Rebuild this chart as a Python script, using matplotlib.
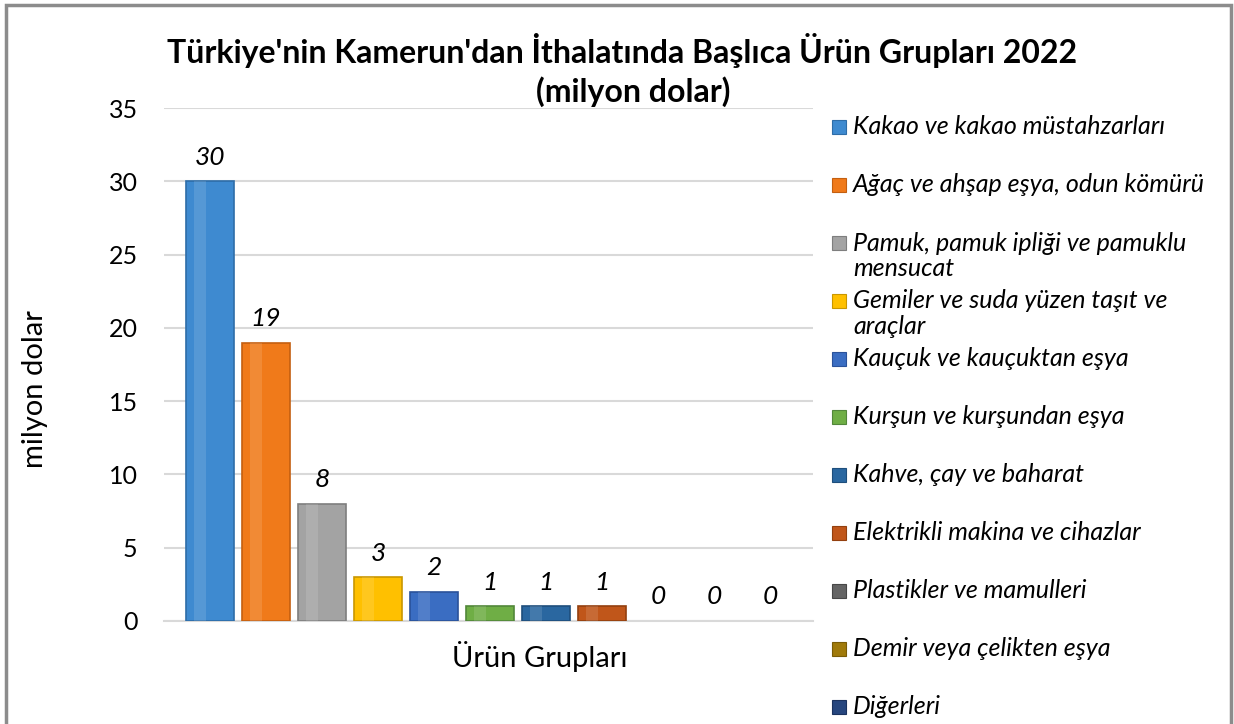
import numpy as np
import matplotlib
matplotlib.use('Agg')
import matplotlib.pyplot as plt
from matplotlib.patches import Rectangle

plt.rcParams['font.family'] = ['Lato', 'DejaVu Sans']

# veri
categories = ['Kakao ve kakao müstahzarları',
              'Ağaç ve ahşap eşya, odun kömürü',
              'Pamuk, pamuk ipliği ve pamuklu\nmensucat',
              'Gemiler ve suda yüzen taşıt ve\naraçlar',
              'Kauçuk ve kauçuktan eşya',
              'Kurşun ve kurşundan eşya',
              'Kahve, çay ve baharat',
              'Elektrikli makina ve cihazlar',
              'Plastikler ve mamulleri',
              'Demir veya çelikten eşya',
              'Diğerleri']
values = [30, 19, 8, 3, 2, 1, 1, 1, 0, 0, 0]
colors = ['#3E8AD0', '#F07A1A', '#A3A3A3', '#FFC000', '#3A6DC2', '#6FAE45',
          '#2A67A0', '#C0561A', '#646464', '#A07A0A', '#26467E']
edges = ['#2E6DA8', '#C45F10', '#7E7E7E', '#C99700', '#2A529A', '#52873A',
         '#1E4E7C', '#93400F', '#474747', '#7A5C06', '#1A325E']

W, H = 1234, 724
fig = plt.figure(figsize=(W / 100, H / 100), dpi=100)
ax = fig.add_axes([164 / W, 1 - 621 / H, (813 - 164) / W, (621 - 108) / H])

x = np.arange(len(values))
lw = [1.2 if v > 0 else 0 for v in values]
ax.bar(x, values, width=0.86, color=colors, edgecolor=edges, linewidth=lw, zorder=3)
# hafif parlama şeridi
for xi, v in zip(x, values):
    if v > 0:
        ax.bar(xi - 0.18, v, width=0.22, color='white', alpha=0.12, zorder=4, linewidth=0)

for xi, v in zip(x, values):
    ax.annotate(f'{v}', (xi, v), xytext=(0, 9), textcoords='offset points',
                ha='center', va='bottom', fontsize=19, fontstyle='italic')

ax.set_xlim(-0.82, 10.77)
ax.set_ylim(0, 35)
ax.set_yticks(range(0, 36, 5))
ax.set_xticks([])
ax.tick_params(axis='y', length=0, labelsize=18, pad=19)
ax.grid(axis='y', color='#D9D9D9', lw=1.5, zorder=0)
for s in ['top', 'right', 'left']:
    ax.spines[s].set_visible(False)
ax.spines['bottom'].set_color('#D9D9D9')
ax.spines['bottom'].set_linewidth(1.5)

fig.text(35 / W, 1 - 389 / H, 'milyon dolar', ha='center', va='center',
         rotation=90, fontsize=21)
fig.text(540 / W, 1 - 657 / H, 'Ürün Grupları', ha='center', va='center', fontsize=21)

fig.text(622 / W, 1 - 50 / H, "Türkiye'nin Kamerun'dan İthalatında Başlıca Ürün Grupları 2022",
         ha='center', va='center', fontsize=23, fontweight='bold')
fig.text(633 / W, 1 - 92 / H, '(milyon dolar)', ha='center', va='center',
         fontsize=23, fontweight='bold')

# lejant
for i, (lab, c, e) in enumerate(zip(categories, colors, edges)):
    yc = 127 + i * 58
    fig.patches.append(Rectangle((832 / W, 1 - (yc + 7) / H), 14 / W, 14 / H,
                                 transform=fig.transFigure, facecolor=c, edgecolor=e, lw=0.8))
    for j, ln in enumerate(lab.split('\n')):
        fig.text(853 / W, 1 - (yc + j * 25) / H, ln, ha='left', va='center',
                 fontsize=18, fontstyle='italic')

# çerçeve
fig.patches.append(Rectangle((6 / W, -0.05), (1231 - 6) / W, 1 - 5 / H + 0.05,
                             transform=fig.transFigure, fill=False,
                             edgecolor='#8C8C8C', lw=2.5))

fig.savefig('out.png', dpi=100)
